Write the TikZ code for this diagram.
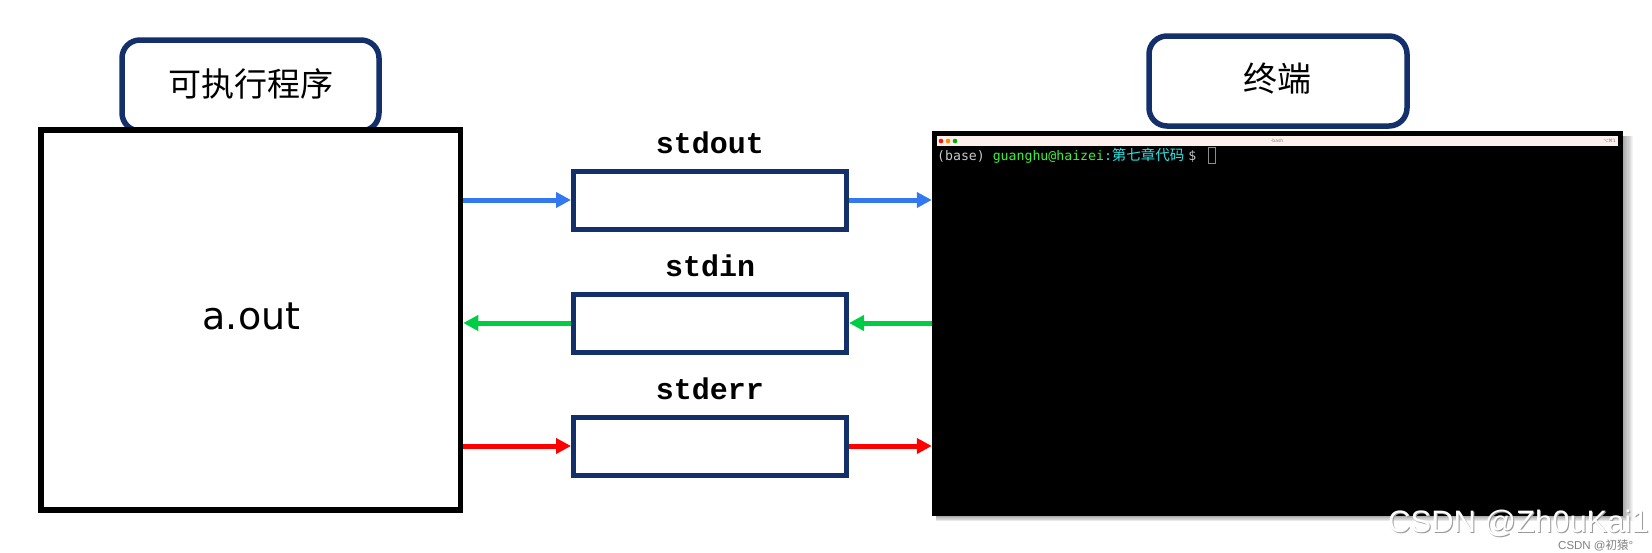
\documentclass[tikz,border=0pt]{standalone}
\usepackage{fontspec}
\usetikzlibrary{arrows.meta}
\newfontfamily\cjk{Noto Sans CJK SC}
\newfontfamily\termfont{DejaVu Sans Mono}
\newfontfamily\codefont{Liberation Mono}
\newfontfamily\sansf{DejaVu Sans}
\newfontfamily\wmfont{Liberation Sans}
\newfontfamily\symfont{DejaVu Sans}
\definecolor{navy}{HTML}{13306A}
\definecolor{arrblue}{HTML}{3478F0}
\definecolor{arrgreen}{HTML}{00CC44}
\definecolor{arrred}{HTML}{FF0000}
\definecolor{barpink}{HTML}{FCEFEC}
\definecolor{promptgray}{HTML}{C8C8C8}
\definecolor{promptgreen}{HTML}{3CF03C}
\definecolor{promptcyan}{HTML}{30E0E0}
\tikzset{
  labbox/.style={draw=navy, line width=5.5pt, rounded corners=18pt, fill=white, inner sep=0pt},
  bigbox/.style={draw=black, line width=5.5pt, fill=white, inner sep=0pt, minimum width=419.5pt, minimum height=380pt},
  pipebox/.style={draw=navy, line width=5pt, fill=white, inner sep=0pt, minimum width=273pt, minimum height=58pt},
  pipelab/.style={font=\codefont\bfseries\fontsize{30}{30}\selectfont, anchor=base, inner sep=0pt},
  flow/.style={line width=5pt, -{Triangle[length=15pt,width=15pt]}},
  dot/.style={circle, inner sep=0pt, minimum size=4.6pt},
}
\begin{document}
\begin{tikzpicture}[x=1pt,y=-1pt]
\useasboundingbox (0,0) rectangle (1652,552);
% label boxes (behind main boxes)
\node[labbox, minimum width=257pt, minimum height=91pt] (lab1) at (250.5,85.5) {};
\node[labbox, minimum width=258pt, minimum height=90pt] (lab2) at (1278,81) {};
\node[font=\cjk\fontsize{33}{33}\selectfont, inner sep=0pt] (lab1t) at (251,84) {可执行程序};
\node[font=\cjk\fontsize{34}{34}\selectfont, inner sep=0pt] (lab2t) at (1277.5,78.5) {终端};
% program box
\node[bigbox] (prog) at (250.75,320) {};
\node[font=\sansf\fontsize{38}{38}\selectfont, inner sep=0pt] (aout) at (251.5,316) {a.out};
% terminal shadow
\foreach \i in {1,...,9}
  \fill[black, opacity=0.045] (936,136) rectangle (1623+\i*1.1,516+\i*0.6);
% terminal
\node[fill=black, inner sep=0pt, minimum width=691pt, minimum height=385pt] (term) at (1277.5,323.5) {};
\node[fill=barpink, inner sep=0pt, minimum width=681pt, minimum height=10pt] (tbar) at (1277.5,141) {};
\node[dot, fill=red!80!orange] (d1) at (941,141) {};
\node[dot, fill=orange!90!yellow] (d2) at (948,141) {};
\node[dot, fill=green!70!black] (d3) at (955,141) {};
\node[font=\symfont\fontsize{4.5}{4.5}\selectfont, text=gray, inner sep=0pt] (ttitle) at (1277,141) {-bash};
\node[font=\symfont\fontsize{4.5}{4.5}\selectfont, text=gray, inner sep=0pt, anchor=east] (tkey) at (1616,141) {⌥⌘1};
\node[anchor=base west, inner sep=0pt, font=\termfont\fontsize{13.2}{13.2}\selectfont] (prompt) at (937,160)
  {\textcolor{promptgray}{(base)\hspace{7.9pt}}\textcolor{promptgreen}{guanghu@haizei}\textcolor{promptcyan}{:}\textcolor{promptcyan}{\cjk\fontsize{14.5}{14.5}\selectfont 第七章代码}\hspace{4pt}\textcolor{promptgray}{\$}};
\node[draw=promptgray!70!black, line width=1pt, inner sep=0pt, minimum width=7pt, minimum height=16pt] (cursor) at (1211.5,155.5) {};
% pipe boxes
\node[pipebox] (sout) at (710,200) {};
\node[pipebox] (sin) at (710,323) {};
\node[pipebox] (serr) at (710,446) {};
\node[pipelab] (soutl) at (710,153) {stdout};
\node[pipelab] (sinl) at (710,276) {stdin};
\node[pipelab] (serrl) at (710,399) {stderr};
% flows
\draw[flow, arrblue] (prog.east |- sout.west) -- (sout.west);
\draw[flow, arrblue] (sout.east) -- (sout.east -| term.west);
\draw[flow, arrgreen] (sin.east -| term.west) -- (sin.east);
\draw[flow, arrgreen] (sin.west) -- (sin.west -| prog.east);
\draw[flow, arrred] (prog.east |- serr.west) -- (serr.west);
\draw[flow, arrred] (serr.east) -- (serr.east -| term.west);
% watermark
\node[anchor=base west, inner sep=0pt, font=\wmfont\fontsize{31}{31}\selectfont, text=gray!80] (wm1s) at (1389,533) {CSDN @Zh0uKai1};
\node[anchor=base west, inner sep=0pt, font=\wmfont\fontsize{31}{31}\selectfont, text=white] (wm1) at (1388,532) {CSDN @Zh0uKai1};
\node[anchor=base west, inner sep=0pt, font=\wmfont\fontsize{11.5}{11.5}\selectfont, text=gray] (wm2) at (1558,549) {CSDN @{\cjk 初猿}°};
\end{tikzpicture}
\end{document}
